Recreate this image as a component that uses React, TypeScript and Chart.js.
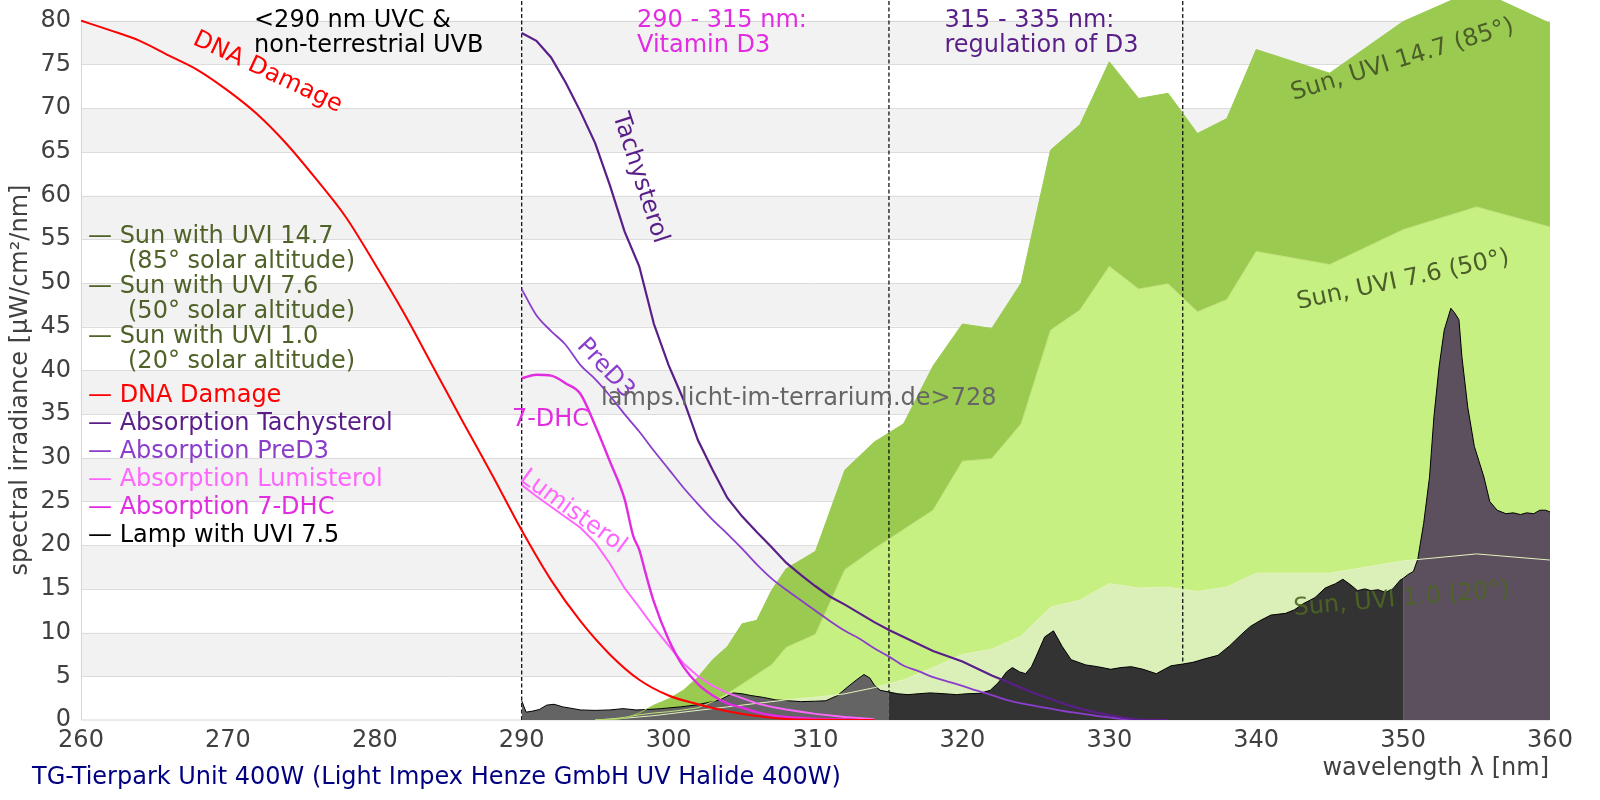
import { useEffect, useRef } from 'react'
import { Chart, registerables } from 'chart.js'

Chart.register(...registerables)

const FONT_FAMILY = "'DejaVu Sans', sans-serif"
const FS = 24
const Y_MAX = 82.37 // axis runs a bit past 80 so the sun area can poke out above the frame

// absorption / action spectra
const dnaNm = [260, 262, 264, 266, 268, 270, 272, 274, 276, 278, 280, 282, 284, 286, 288, 290, 292, 294, 296, 298, 300, 302, 304, 306, 308, 310, 312, 314]
const dnaVal = [80.0, 78.9, 77.7, 76.0, 74.3, 72.0, 69.3, 65.9, 61.9, 57.6, 52.2, 46.5, 40.3, 34.1, 28.0, 21.7, 16.0, 11.3, 7.5, 4.6, 2.8, 1.8, 1.0, 0.45, 0.12, 0.03, 0, 0]

const tachyNm = [290, 291, 292, 293, 294, 295, 296, 297, 298, 299, 300, 301, 302, 303, 304, 305, 306, 307, 308, 309, 310, 311, 312, 313, 314, 315, 316, 317, 318, 319, 320, 321, 322, 323, 324, 325, 326, 327, 328, 329, 330, 331, 332, 334]
const tachyVal = [78.6, 77.7, 75.8, 72.9, 69.6, 66.0, 61.2, 55.9, 51.9, 45.3, 40.6, 36.7, 32.0, 28.6, 25.4, 23.3, 21.5, 19.8, 18.0, 16.6, 15.3, 14.1, 13.2, 12.2, 11.2, 10.3, 9.5, 8.7, 7.9, 7.3, 6.7, 5.9, 5.1, 4.4, 3.7, 3.0, 2.4, 1.8, 1.3, 0.9, 0.55, 0.25, 0.05, 0]

const pred3Nm = [290, 291, 292, 293, 294, 295, 296, 297, 298, 299, 300, 301, 302, 303, 304, 305, 306, 307, 308, 309, 310, 311, 312, 313, 314, 315, 316, 317, 318, 319, 320, 321, 322, 323, 324, 325, 326, 327, 328, 329, 330, 331, 332]
const pred3Val = [49.3, 46.3, 44.5, 42.9, 40.6, 39.0, 37.1, 35.0, 33.0, 30.8, 28.7, 26.6, 24.7, 22.9, 21.3, 19.6, 17.8, 16.2, 14.9, 13.7, 12.5, 11.3, 10.2, 9.3, 8.2, 7.25, 6.2, 5.6, 4.9, 4.4, 3.9, 3.35, 2.85, 2.3, 1.9, 1.6, 1.3, 1.0, 0.75, 0.5, 0.3, 0.1, 0]

const dhcNm = [290, 291, 292, 293, 294, 295, 296, 297, 297.6, 298, 298.4, 299, 300, 301, 302, 303, 304, 305, 306, 307, 308, 310, 312, 313]
const dhcVal = [39.1, 39.5, 39.4, 38.5, 37.3, 33.7, 29.6, 25.3, 21.0, 19.5, 17.0, 13.5, 9.2, 6.1, 4.1, 2.8, 1.9, 1.4, 0.9, 0.55, 0.35, 0.15, 0.05, 0]

const lumiNm = [290, 291, 292, 293, 294, 295, 296, 297, 298, 299, 300, 301, 302, 303, 304, 305, 306, 307, 308, 309, 310, 312, 314]
const lumiVal = [26.9, 25.6, 24.4, 23.2, 22.0, 20.3, 17.9, 15.1, 12.9, 10.6, 8.5, 6.5, 5.0, 3.9, 3.1, 2.5, 1.9, 1.5, 1.2, 0.95, 0.7, 0.35, 0.1]

// sun spectra
const sunNm = [295, 296, 297, 298, 299, 300, 301, 302, 303, 304, 305, 306, 307, 308, 310, 312, 314, 316, 318, 320, 322, 324, 326, 328, 330, 332, 334, 336, 338, 340, 345, 350, 355, 360]
const sunUvi147 = [0, 0, 0.2, 0.8, 1.7, 2.4, 3.4, 4.9, 6.9, 8.4, 11.0, 11.4, 14.8, 17.3, 19.3, 28.6, 31.8, 33.9, 40.5, 45.3, 44.8, 50.0, 65.2, 68.1, 75.3, 71.1, 71.7, 67.1, 68.8, 76.7, 74.0, 79.9, 83.6, 79.7]
const sunUvi76 = [0, 0.1, 0.3, 0.6, 0.8, 0.95, 1.15, 1.4, 2.1, 3.0, 4.1, 5.2, 6.3, 8.3, 9.8, 17.2, 19.6, 21.8, 24.0, 29.6, 29.9, 33.9, 44.6, 46.9, 51.9, 49.3, 49.9, 46.7, 48.1, 53.6, 52.1, 56.1, 58.7, 56.4]
const sunUvi10 = [0, 0.1, 0.2, 0.35, 0.5, 0.7, 0.9, 1.1, 1.3, 1.5, 1.7, 1.9, 2.1, 2.3, 2.6, 3.0, 3.7, 4.6, 6.0, 7.5, 8.1, 9.6, 12.9, 13.7, 15.6, 15.1, 15.2, 14.7, 15.2, 16.8, 16.8, 18.2, 19.0, 18.3]

// lamp spectrum (TG-Tierpark Unit 400W)
const lampNm = [
  290, 290.3, 290.7, 291.2, 291.7, 292.2, 292.8, 293.5, 294, 295,
  296, 296.9, 297.8, 298.6, 299.5, 300.8, 301.8, 302.7, 303.5, 304.4,
  305, 305.6, 306.4, 307.3, 308.2, 309, 310, 310.7, 311.5, 312.2,
  312.8, 313.3, 313.7, 314, 314.4, 315, 315.6, 316.3, 317, 317.8,
  318.8, 319.6, 320.3, 321.2, 321.9, 322.4, 322.7, 323, 323.4, 323.9,
  324.3, 324.7, 325, 325.6, 326.2, 326.8, 327.4, 328.4, 329.2, 330.1,
  330.8, 331.5, 332.3, 333.2, 334.2, 335, 335.7, 336.5, 337.4, 338.2,
  339, 339.6, 340.3, 341, 342, 342.6, 343.2, 344, 344.7, 345.4,
  345.9, 346.4, 346.9, 347.4, 347.8, 348.3, 348.8, 349.3, 349.8, 350,
  350.3, 350.7, 351, 351.4, 351.8, 352.1, 352.45, 352.8, 353.25, 353.5,
  353.8, 354, 354.4, 354.85, 355.5, 355.9, 356.4, 357, 357.5, 358,
  358.4, 358.9, 359.3, 359.7, 360,
]
const lampVal = [
  2.2, 0.9, 1.0, 1.2, 1.7, 1.8, 1.5, 1.3, 1.15, 1.1,
  1.15, 1.3, 1.15, 1.2, 1.3, 1.5, 1.7, 2.0, 2.3, 3.1,
  3.0, 2.8, 2.6, 2.3, 2.2, 2.1, 2.15, 2.2, 2.8, 3.8,
  4.6, 5.2, 4.8, 4.0, 3.4, 3.2, 3.0, 2.9, 3.0, 3.1,
  3.0, 2.9, 3.0, 3.05, 3.4, 4.2, 4.8, 5.5, 6.0, 5.5,
  5.3, 6.1, 7.2, 9.5, 10.2, 8.4, 6.9, 6.3, 6.1, 5.8,
  6.0, 6.1, 5.8, 5.3, 6.2, 6.4, 6.6, 7.0, 7.4, 8.5,
  9.8, 10.7, 11.4, 12.0, 12.2, 12.6, 13.3, 14.0, 15.1, 15.6,
  16.1, 15.5, 14.8, 15.0, 14.8, 14.9, 14.6, 15.0, 16.0, 16.2,
  16.6, 17.0, 18.4, 22.5, 27.8, 34.7, 40.4, 44.6, 47.1, 46.6,
  45.8, 41.6, 35.8, 31.3, 27.8, 25.0, 24.0, 23.6, 23.7, 23.5,
  23.7, 23.6, 24.0, 24.0, 23.8,
]
// lamp fill changes colour at these wavelengths
const lampBreaks = [290, 315, 350, 360]
const lampFills = ['#646464', '#333333', '#5c4f5e']

// dashed region boundaries
const regionBounds = [290, 315, 335]

const RED = '#ff0000'
const TACHY = '#5a1e88'
const PRED3 = '#8b3dcc'
const LUMI = '#ff66ff'
const DHC = '#e22ce2'
const SUN_TXT = '#4f6228'
const TICK = '#404040'

const legendRows = [
  { text: '— Sun with UVI 14.7', color: SUN_TXT },
  { text: '(85° solar altitude)', color: SUN_TXT, sub: true },
  { text: '— Sun with UVI 7.6', color: SUN_TXT },
  { text: '(50° solar altitude)', color: SUN_TXT, sub: true },
  { text: '— Sun with UVI 1.0', color: SUN_TXT },
  { text: '(20° solar altitude)', color: SUN_TXT, sub: true },
  { text: '— DNA Damage', color: RED },
  { text: '— Absorption Tachysterol', color: TACHY },
  { text: '— Absorption PreD3', color: PRED3 },
  { text: '— Absorption Lumisterol', color: LUMI },
  { text: '— Absorption 7-DHC', color: DHC },
  { text: '— Lamp with UVI 7.5', color: '#000000' },
]

// labels sitting on the curves, positioned in data units
const curveLabels = [
  { text: 'DNA Damage', nm: 272.7, v: 74.1, rot: 25, color: RED },
  { text: 'Tachysterol', nm: 298.05, v: 62.0, rot: 72, color: TACHY },
  { text: 'PreD3', nm: 295.7, v: 40.2, rot: 47, color: PRED3 },
  { text: '7-DHC', nm: 291.96, v: 34.4, rot: 0, color: DHC },
  { text: 'Lumisterol', nm: 293.5, v: 23.8, rot: 36, color: LUMI },
  { text: 'Sun, UVI 14.7 (85°)', nm: 349.96, v: 75.5, rot: -17, color: '#4b5e29' },
  { text: 'Sun, UVI 7.6 (50°)', nm: 350.0, v: 50.3, rot: -12, color: '#4b5e29' },
  { text: 'Sun, UVI 1.0 (20°)', nm: 349.9, v: 13.8, rot: -5, color: 'rgba(76,102,36,0.9)' },
]

const regionLabels = [
  { lines: ['<290 nm UVC &', 'non-terrestrial UVB'], x: 254, color: '#000000' },
  { lines: ['290 - 315 nm:', 'Vitamin D3'], x: 637, color: DHC },
  { lines: ['315 - 335 nm:', 'regulation of D3'], x: 944.5, color: TACHY },
]

const xy = (nm: number[], v: number[]) => nm.map((x, i) => ({ x, y: v[i] }))

const frame = {
  id: 'frame',
  beforeDatasetsDraw(chart: any) {
    const { ctx, chartArea: a, scales: { y } } = chart
    const top = y.getPixelForValue(80)
    ctx.save()
    ctx.fillStyle = '#f2f2f2'
    for (let v = 5; v < 80; v += 10) {
      const y1 = y.getPixelForValue(v + 5)
      const y0 = y.getPixelForValue(v)
      ctx.fillRect(a.left, y1, a.right - a.left, y0 - y1)
    }
    ctx.strokeStyle = '#dcdcdc'
    ctx.lineWidth = 1
    for (let v = 5; v < 80; v += 5) {
      const py = Math.round(y.getPixelForValue(v)) + 0.5
      ctx.beginPath(); ctx.moveTo(a.left, py); ctx.lineTo(a.right, py); ctx.stroke()
    }
    ctx.strokeStyle = '#d6d6d6'
    ctx.strokeRect(Math.round(a.left) + 0.5, Math.round(top) + 0.5, Math.round(a.right - a.left) - 1, Math.round(a.bottom - top) - 0.5)
    ctx.restore()
  },
}

const texts = {
  id: 'texts',
  afterDatasetsDraw(chart: any) {
    const { ctx, scales: { x, y } } = chart
    ctx.save()
    ctx.font = `${FS}px ${FONT_FAMILY}`

    // labels along the curves
    ctx.textAlign = 'center'
    ctx.textBaseline = 'middle'
    for (const l of curveLabels) {
      ctx.save()
      ctx.translate(x.getPixelForValue(l.nm), y.getPixelForValue(l.v))
      ctx.rotate((l.rot * Math.PI) / 180)
      ctx.fillStyle = l.color
      ctx.fillText(l.text, 0, 0)
      ctx.restore()
    }

    // region headings
    ctx.textAlign = 'left'
    ctx.textBaseline = 'alphabetic'
    for (const r of regionLabels) {
      ctx.fillStyle = r.color
      r.lines.forEach((t, i) => ctx.fillText(t, r.x, 27 + i * 24.5))
    }

    ctx.fillStyle = '#666666'
    ctx.fillText('lamps.licht-im-terrarium.de>728', 601, 405)

    // hand-made legend
    legendRows.forEach((r, i) => {
      const by = i < 6 ? 243.3 + i * 24.9 : 402.3 + (i - 6) * 28
      ctx.fillStyle = r.color
      ctx.fillText(r.text, r.sub ? 128 : 88, by)
    })

    // axis titles and caption
    ctx.fillStyle = TICK
    ctx.textAlign = 'right'
    ctx.fillText('wavelength λ [nm]', 1549, 775)
    ctx.save()
    ctx.translate(21, 380)
    ctx.rotate(-Math.PI / 2)
    ctx.textAlign = 'center'
    ctx.textBaseline = 'middle'
    ctx.fillText('spectral irradiance [µW/cm²/nm]', 0, 0)
    ctx.restore()

    ctx.textAlign = 'left'
    ctx.fillStyle = '#000080'
    ctx.fillText('TG-Tierpark Unit 400W (Light Impex Henze GmbH UV Halide 400W)', 32, 784)
    ctx.restore()
  },
}

export default function App() {
  const canvasRef = useRef<HTMLCanvasElement>(null)
  const chartRef = useRef<Chart | null>(null)

  useEffect(() => {
    if (!canvasRef.current) return
    if (chartRef.current) chartRef.current.destroy()

    const curve = (label: string, data: any[], color: string, width: number, smooth = false) => ({
      label, data, borderColor: color, borderWidth: width, fill: false, pointRadius: 0,
      cubicInterpolationMode: smooth ? 'monotone' : 'default',
    })
    const lampPts = xy(lampNm, lampVal)
    const lampSets = lampFills.map((c, i) => ({
      label: 'Lamp ' + i,
      data: lampPts.filter(p => p.x >= lampBreaks[i] && p.x <= lampBreaks[i + 1]),
      borderColor: '#000000', borderWidth: 1, backgroundColor: c, fill: 'origin', pointRadius: 0,
    }))
    const dashed = regionBounds.map(b => ({
      label: 'bound ' + b,
      data: [{ x: b, y: 0 }, { x: b, y: Y_MAX }],
      borderColor: '#000000', borderWidth: 1.2, borderDash: [4, 2.5], fill: false, pointRadius: 0,
    }))
    const sunFill = (label: string, v: number[], c: string) => ({
      label, data: xy(sunNm, v), borderWidth: 0, borderColor: c, backgroundColor: c, fill: 'origin', pointRadius: 0,
    })

    chartRef.current = new Chart(canvasRef.current, {
      type: 'line',
      data: {
        // first dataset is drawn on top
        datasets: [
          curve('DNA Damage', xy(dnaNm, dnaVal), RED, 2, true),
          curve('Tachysterol', xy(tachyNm, tachyVal), TACHY, 2.2),
          curve('PreD3', xy(pred3Nm, pred3Val), PRED3, 1.8, true),
          curve('7-DHC', xy(dhcNm, dhcVal), DHC, 2.4, true),
          curve('Lumisterol', xy(lumiNm, lumiVal), LUMI, 2),
          curve('Sun 14.7 line', xy(sunNm, sunUvi147), '#9bca50', 1),
          curve('Sun 7.6 line', xy(sunNm, sunUvi76), '#c2e27c', 1),
          curve('Sun 1.0 line', xy(sunNm, sunUvi10), '#e4f3bf', 1),
          ...lampSets,
          ...dashed,
          sunFill('Sun 1.0', sunUvi10, '#dbefb9'),
          sunFill('Sun 7.6', sunUvi76, '#c7f082'),
          sunFill('Sun 14.7', sunUvi147, '#9bca50'),
        ] as any,
      },
      options: {
        animation: false,
        responsive: true,
        maintainAspectRatio: false,
        events: [],
        layout: { padding: { left: 0, right: 50, top: 0, bottom: 0 } },
        elements: { line: { tension: 0 }, point: { radius: 0 } },
        plugins: { legend: { display: false }, tooltip: { enabled: false } },
        scales: {
          x: {
            type: 'linear', min: 260, max: 360,
            grid: { display: false, drawTicks: false },
            border: { display: false },
            ticks: { stepSize: 10, color: TICK, font: { family: FONT_FAMILY, size: FS }, padding: 6, maxRotation: 0, autoSkip: false },
            afterFit: (s: any) => { s.height = 80; s.paddingLeft = 0; s.paddingRight = 0 },
          },
          y: {
            type: 'linear', min: 0, max: Y_MAX,
            grid: { display: false, drawTicks: false },
            border: { display: false },
            ticks: { stepSize: 5, includeBounds: false, color: TICK, font: { family: FONT_FAMILY, size: FS }, padding: 10 },
            afterFit: (s: any) => { s.width = 81; s.paddingTop = 0; s.paddingBottom = 0 },
          },
        },
      } as any,
      plugins: [frame, texts],
    })

    return () => { chartRef.current?.destroy() }
  }, [])

  return (
    <div style={{ position: 'fixed', left: 0, top: 0, width: 1600, height: 800, background: '#ffffff' }}>
      <canvas ref={canvasRef} />
    </div>
  )
}
